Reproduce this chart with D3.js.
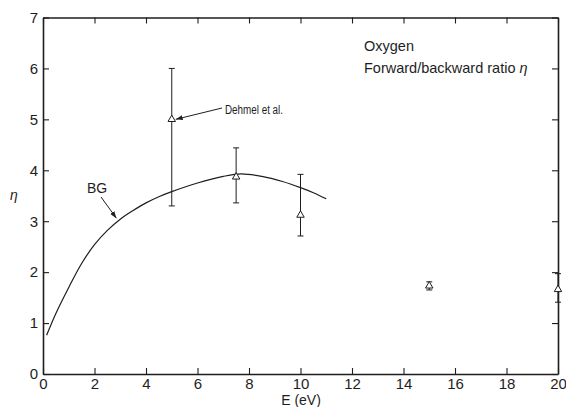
<!DOCTYPE html>
<html>
<head>
<meta charset="utf-8">
<script src="https://cdn.jsdelivr.net/npm/d3@7"></script>
<style>
  body { margin: 0; background: #fff; }
  svg { display: block; font-family: "Liberation Sans", Arial, sans-serif; }
</style>
</head>
<body>
<div id="graph"></div>
<script>
const width = 566, height = 407;

// BG curve
const bgE   = [0.14, 0.5, 1.0, 1.5, 2.0, 2.5, 3.0, 3.5, 4.0, 4.5, 5.0, 6.0, 7.0, 7.7, 8.5, 9.3, 10.0, 10.5, 11.0];
const bgEta = [0.76, 1.19, 1.70, 2.17, 2.54, 2.82, 3.04, 3.21, 3.36, 3.48, 3.58, 3.75, 3.88, 3.93, 3.88, 3.78, 3.66, 3.56, 3.44];

// Dehmel et al. points with error bars
const ptE   = [5, 7.5, 10, 15, 20];
const ptEta = [5.0, 3.87, 3.12, 1.73, 1.66];
const ptLo  = [3.3, 3.36, 2.71, 1.65, 1.41];
const ptHi  = [6.0, 4.44, 3.92, 1.81, 1.97];

const xTicks = [0, 2, 4, 6, 8, 10, 12, 14, 16, 18, 20];
const yTicks = [0, 1, 2, 3, 4, 5, 6, 7];

const ink = "#1e1e1e";

let svg = d3.select("#graph")
    .append("svg")
    .attr("width", width)
    .attr("height", height);

svg.append("rect").attr("width", width).attr("height", height).attr("fill", "#fff");

let x = d3.scaleLinear().domain([0, 20]).range([43, 558]);
let y = d3.scaleLinear().domain([0, 7]).range([374, 17.5]);

function styleAxis(g) {
    g.select(".domain").attr("stroke", ink).attr("stroke-width", 1.6);
    g.selectAll(".tick line").attr("stroke", ink).attr("stroke-width", 1.1);
    g.selectAll(".tick text").attr("fill", ink).style("font-size", "15px");
    g.attr("font-family", null);
}

svg.append("g")
    .attr("transform", `translate(0, ${y(0)})`)
    .call(d3.axisBottom(x).tickValues(xTicks).tickFormat(d3.format("d"))
        .tickSizeInner(-6).tickSizeOuter(0).tickPadding(4))
    .call(styleAxis);

svg.append("g")
    .attr("transform", `translate(${x(0)}, 0)`)
    .call(d3.axisLeft(y).tickValues(yTicks).tickFormat(d3.format("d"))
        .tickSizeInner(-6).tickSizeOuter(0).tickPadding(5))
    .call(styleAxis);

svg.append("g")
    .attr("transform", `translate(0, ${y(7)})`)
    .call(d3.axisTop(x).tickValues(xTicks).tickSizeInner(-6).tickSizeOuter(0).tickFormat(""))
    .call(styleAxis);

svg.append("g")
    .attr("transform", `translate(${x(20)}, 0)`)
    .call(d3.axisRight(y).tickValues(yTicks).tickSizeInner(-6).tickSizeOuter(0).tickFormat(""))
    .call(styleAxis);

// arrow marker
svg.append("defs").append("marker")
    .attr("id", "arrow")
    .attr("viewBox", "0 0 10 10")
    .attr("refX", 10).attr("refY", 5)
    .attr("markerWidth", 7).attr("markerHeight", 7)
    .attr("markerUnits", "userSpaceOnUse")
    .attr("orient", "auto")
    .append("path")
    .attr("d", "M0,1.5 L10,5 L0,8.5 Z")
    .attr("fill", ink);

// BG curve
let bgData = bgE.map((e, i) => [e, bgEta[i]]);
svg.append("path")
    .datum(bgData)
    .attr("fill", "none")
    .attr("stroke", ink)
    .attr("stroke-width", 1.2)
    .attr("d", d3.line()
        .curve(d3.curveCatmullRom.alpha(0.5))
        .x(function(d) { return x(d[0]); })
        .y(function(d) { return y(d[1]); })
    );

// error bars
let pts = ptE.map((e, i) => ({e: e, eta: ptEta[i], lo: ptLo[i], hi: ptHi[i]}));
let bars = svg.append("g").attr("stroke", ink).attr("stroke-width", 1);
pts.forEach(function(d) {
    bars.append("line").attr("x1", x(d.e)).attr("x2", x(d.e)).attr("y1", y(d.lo)).attr("y2", y(d.hi));
    bars.append("line").attr("x1", x(d.e) - 3).attr("x2", x(d.e) + 3).attr("y1", y(d.lo)).attr("y2", y(d.lo));
    bars.append("line").attr("x1", x(d.e) - 3).attr("x2", x(d.e) + 3).attr("y1", y(d.hi)).attr("y2", y(d.hi));
});

svg.selectAll(".pt")
    .data(pts)
    .enter()
    .append("path")
    .attr("class", "pt")
    .attr("d", d3.symbol(d3.symbolTriangle, 24))
    .attr("transform", function(d) { return `translate(${x(d.e)}, ${y(d.eta)})`; })
    .attr("fill", "#fff")
    .attr("stroke", ink)
    .attr("stroke-width", 1);

// annotations
svg.append("text")
    .attr("x", 97).attr("y", 193)
    .attr("text-anchor", "middle")
    .style("font-size", "14px")
    .attr("fill", ink)
    .text("BG");

svg.append("line")
    .attr("x1", 101).attr("y1", 197)
    .attr("x2", x(2.85)).attr("y2", y(3.06))
    .attr("stroke", ink).attr("stroke-width", 1)
    .attr("marker-end", "url(#arrow)");

svg.append("text")
    .attr("x", 225).attr("y", 114)
    .style("font-size", "12.5px")
    .attr("textLength", 58)
    .attr("lengthAdjust", "spacingAndGlyphs")
    .attr("fill", ink)
    .text("Dehmel et al.");

svg.append("line")
    .attr("x1", 222).attr("y1", 108)
    .attr("x2", x(5) + 4).attr("y2", y(5))
    .attr("stroke", ink).attr("stroke-width", 1)
    .attr("marker-end", "url(#arrow)");

let info = svg.append("text")
    .style("font-size", "14.5px")
    .attr("fill", ink);
info.append("tspan").attr("x", 364).attr("y", 51).text("Oxygen");
info.append("tspan").attr("x", 364).attr("y", 73).text("Forward/backward ratio ")
    .append("tspan").style("font-style", "italic").text("η");

// axis titles
svg.append("text")
    .attr("x", 14).attr("y", 200)
    .attr("text-anchor", "middle")
    .style("font-size", "14px")
    .style("font-style", "italic")
    .attr("fill", ink)
    .text("η");

svg.append("text")
    .attr("x", 301).attr("y", 405)
    .attr("text-anchor", "middle")
    .style("font-size", "14px")
    .attr("fill", ink)
    .text("E (eV)");
</script>
</body>
</html>
